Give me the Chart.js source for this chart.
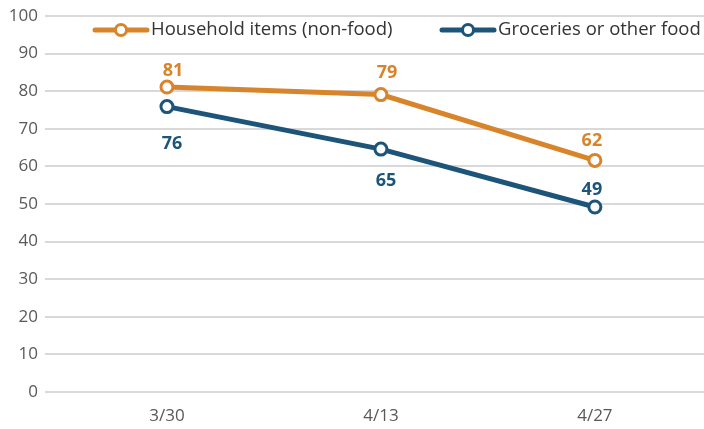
<!DOCTYPE html>
<html>
<head>
<meta charset="utf-8">
<script src="https://cdn.jsdelivr.net/npm/chart.js@4.4.1/dist/chart.umd.min.js"></script>
<style>
  html, body { margin: 0; padding: 0; background: #ffffff; overflow: hidden; }
  canvas { display: block; }
</style>
</head>
<body>
<canvas id="c" width="704" height="429"></canvas>
<script>
// ---- data ----
const categories = ['3/30', '4/13', '4/27'];
const householdItems = [81.1, 79.1, 61.6];
const groceries = [75.9, 64.6, 49.2];
const yTicks = [0, 10, 20, 30, 40, 50, 60, 70, 80, 90, 100];
const seriesNames = ['Household items (non-food)', 'Groceries or other food'];

const ORANGE = '#D8842A';
const BLUE = '#1D5479';
const FONT = "'Open Sans', 'Noto Sans', sans-serif";

function toXY(values) {
  return values.map((v, i) => ({ x: i, y: v }));
}

// Value labels next to points
const valueLabels = {
  id: 'valueLabels',
  afterDatasetsDraw(chart, args, opts) {
    const ctx = chart.ctx;
    ctx.save();
    ctx.font = 'bold 18px ' + FONT;
    ctx.textAlign = 'center';
    ctx.textBaseline = 'middle';
    chart.data.datasets.forEach((ds, di) => {
      const meta = chart.getDatasetMeta(di);
      const offs = opts.offsets[di];
      ctx.fillStyle = ds.borderColor;
      meta.data.forEach((pt, i) => {
        const v = ds.data[i].y;
        ctx.fillText(String(Math.round(v)), pt.x + offs[i][0], pt.y + offs[i][1]);
      });
    });
    ctx.restore();
  }
};

// Legend drawn inside the plot area (line + hollow circle marker)
const insideLegend = {
  id: 'insideLegend',
  afterDraw(chart, args, opts) {
    const ctx = chart.ctx;
    ctx.save();
    ctx.font = '18.5px ' + FONT;
    ctx.textBaseline = 'middle';
    const y = opts.y;
    chart.data.datasets.forEach((ds, di) => {
      const x0 = opts.xs[di];
      const lineLen = 56;
      ctx.strokeStyle = ds.borderColor;
      ctx.lineWidth = 5;
      ctx.lineCap = 'round';
      ctx.beginPath();
      ctx.moveTo(x0 + 2, y);
      ctx.lineTo(x0 + lineLen - 2, y);
      ctx.stroke();
      ctx.beginPath();
      ctx.arc(x0 + lineLen / 2, y, 5.5, 0, Math.PI * 2);
      ctx.fillStyle = '#ffffff';
      ctx.fill();
      ctx.lineWidth = 3;
      ctx.stroke();
      ctx.fillStyle = '#333333';
      ctx.textAlign = 'left';
      ctx.fillText(ds.label, x0 + lineLen + 2, y);
    });
    ctx.restore();
  }
};

new Chart(document.getElementById('c'), {
  type: 'line',
  data: {
    datasets: [
      {
        label: seriesNames[0],
        data: toXY(householdItems),
        borderColor: ORANGE,
        backgroundColor: '#ffffff',
        borderWidth: 5,
        pointRadius: 6,
        pointBorderWidth: 3,
        pointBackgroundColor: '#ffffff',
        pointBorderColor: ORANGE,
        tension: 0
      },
      {
        label: seriesNames[1],
        data: toXY(groceries),
        borderColor: BLUE,
        backgroundColor: '#ffffff',
        borderWidth: 5,
        pointRadius: 6,
        pointBorderWidth: 3,
        pointBackgroundColor: '#ffffff',
        pointBorderColor: BLUE,
        tension: 0
      }
    ]
  },
  options: {
    responsive: false,
    maintainAspectRatio: false,
    animation: false,
    devicePixelRatio: 1,
    layout: { autoPadding: false, padding: { top: 16, right: 0, left: 0, bottom: 0 } },
    plugins: {
      legend: { display: false },
      tooltip: { enabled: false },
      valueLabels: {
        offsets: [
          [[6, -16], [6, -22], [-3, -20]],
          [[5, 37], [5, 32], [-3, -17]]
        ]
      },
      insideLegend: { y: 30, xs: [93, 440] }
    },
    scales: {
      x: {
        type: 'linear',
        min: -0.57,
        max: 2.51,
        afterBuildTicks(axis) {
          axis.ticks = categories.map((c, i) => ({ value: i }));
        },
        afterFit(axis) {
          axis.height = 37;
          axis.paddingLeft = 0;
          axis.paddingRight = 0;
        },
        grid: { display: false },
        border: { display: false },
        ticks: {
          padding: 6,
          color: '#595959',
          font: { family: FONT, size: 17 },
          callback: (v) => categories[v] !== undefined ? categories[v] : ''
        }
      },
      y: {
        min: 0,
        max: 100,
        afterBuildTicks(axis) {
          axis.ticks = yTicks.map(v => ({ value: v }));
        },
        afterFit(axis) {
          axis.width = 45;
          axis.paddingTop = 0;
          axis.paddingBottom = 0;
        },
        grid: { color: '#d9d9d9', lineWidth: 2, drawTicks: false },
        border: { display: false },
        ticks: {
          padding: 7,
          color: '#595959',
          font: { family: FONT, size: 17 }
        }
      }
    }
  },
  plugins: [valueLabels, insideLegend]
});
</script>
</body>
</html>
